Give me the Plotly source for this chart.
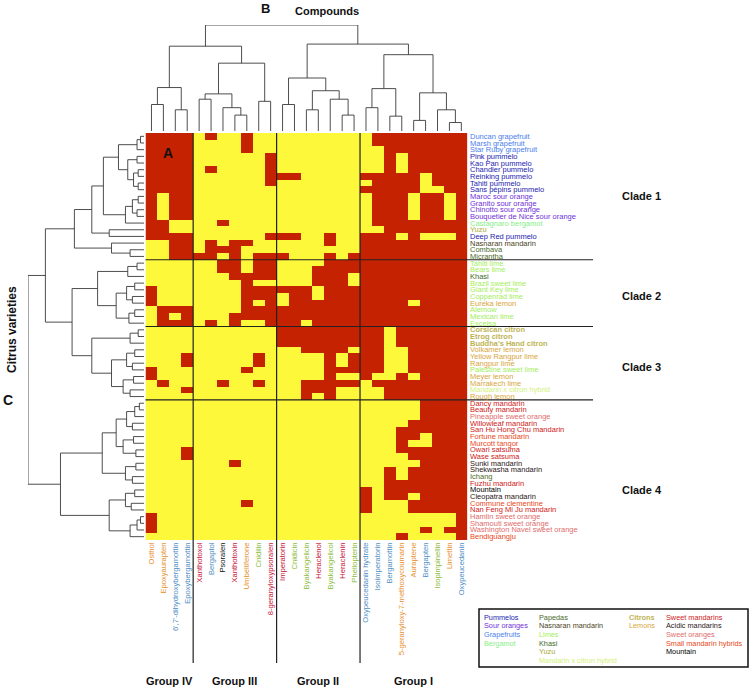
import plotly.graph_objects as go

W, H = 750, 692

# ---------------- data ----------------
compounds = ["Osthol", "Epoxyaurapten", "6',7'-dihydroxybergamottin", "Epoxybergamottin",
             "Xanthotoxol", "Bergaptol", "Psoralen", "Xanthotoxin", "Umbelliferone", "Cnidilin",
             "8-geranyloxypsoralen",
             "Imperatorin", "Cnidicin", "Byakangelicin", "Heraclenol", "Byakangelicol", "Heraclenin",
             "Phellopterin",
             "Oxypeucedanin hydrate", "Isoimperatorin", "Bergamottin", "5-geranyloxy-7-methoxycoumarin",
             "Auraptene", "Bergapten", "Isopimpinellin", "Limettin", "Oxypeucedanin"]
compound_colors = ["#e8902e", "#e8902e", "#4f8fc4", "#4f8fc4",
                   "#c8143a", "#4f8fc4", "#111111", "#c8143a", "#e8902e", "#8cbc3a", "#c8143a",
                   "#c8143a", "#8cbc3a", "#8cbc3a", "#c8143a", "#8cbc3a", "#c8143a", "#8cbc3a",
                   "#4f8fc4", "#4f8fc4", "#4f8fc4", "#e8902e", "#e8902e", "#4f8fc4", "#8cbc3a",
                   "#e8902e", "#4f8fc4"]

varieties = ["Duncan grapefruit", "Marsh grapefruit", "Star Ruby grapefruit", "Pink pummelo",
             "Kao Pan pummelo", "Chandler pummelo", "Reinking pummelo", "Tahiti pummelo",
             "Sans pépins pummelo", "Maroc sour orange", "Granito sour orange", "Chinotto sour orange",
             "Bouquetier de Nice sour orange", "Castagnaro bergamot", "Yuzu", "Deep Red pummelo",
             "Nasnaran mandarin", "Combava", "Micrantha",
             "Tahiti lime", "Bears lime", "Khasi", "Brazil sweet lime", "Giant Key lime",
             "Coppenrad lime", "Eureka lemon", "Alemow", "Mexican lime", "Excelsa",
             "Corsican citron", "Etrog citron", "Buddha's Hand citron", "Volkamer lemon",
             "Yellow Rangpur lime", "Rangpur lime", "Palestine sweet lime", "Meyer lemon",
             "Marrakech lime", "Mandarin x citron hybrid", "Rough lemon",
             "Dancy mandarin", "Beauty mandarin", "Pineapple sweet orange", "Willowleaf mandarin",
             "San Hu Hong Chu mandarin", "Fortune mandarin", "Murcott tangor", "Owari satsuma",
             "Wase satsuma", "Sunki mandarin", "Shekwasha mandarin", "Ichang", "Fuzhu mandarin",
             "Mountain", "Cleopatra mandarin", "Commune clementine", "Nan Feng Mi Ju mandarin",
             "Hamlin sweet orange", "Shamouti sweet orange", "Washington Navel sweet orange",
             "Bendiguangju"]
variety_types = ["gf", "gf", "gf", "pu", "pu", "pu", "pu", "pu", "pu", "so", "so", "so", "so",
                 "be", "yu", "pu", "na", "pa", "pa",
                 "li", "li", "kh", "li", "li", "li", "le", "li", "li", "li",
                 "ci", "ci", "ci", "le", "le", "le", "li", "le", "le", "hy", "le",
                 "sm", "sm", "sw", "sm", "sm", "hb", "hb", "sm", "sm", "ac", "ac", "pa", "sm",
                 "mo", "ac", "hb", "sm", "sw", "sw", "sw", "hb"]
type_colors = {"pu": "#1c1cb0", "so": "#7030d8", "gf": "#4a80ec", "be": "#86ee86",
               "pa": "#4a6a2a", "na": "#4a3f1c", "li": "#a4ee5c", "kh": "#3c6a2a",
               "yu": "#a8a83c", "hy": "#d4f07c", "ci": "#bdb453", "le": "#d8a63c",
               "sm": "#d01a1a", "ac": "#2c1616", "sw": "#e06c6c", "hb": "#e8481c",
               "mo": "#000000"}
legend_columns = [
    [("Pummelos", "pu"), ("Sour oranges", "so"), ("Grapefruits", "gf"), ("Bergamot", "be")],
    [("Papedas", "pa"), ("Nasnaran mandarin", "na"), ("Limes", "li"), ("Khasi", "kh"),
     ("Yuzu", "yu"), ("Mandarin x citron hybrid", "hy")],
    [("Citrons", "ci"), ("Lemons", "le")],
    [("Sweet mandarins", "sm"), ("Acidic mandarins", "ac"), ("Sweet oranges", "sw"),
     ("Small mandarin hybrids", "hb"), ("Mountain", "mo")],
]

# presence (1, red) / absence (0, yellow); columns: Group IV | III | II | I
presence = [
    "1111" "0100100" "0000000" "011111111",
    "1111" "0000100" "0000000" "011111111",
    "1111" "0000100" "0000000" "001111111",
    "1111" "0000001" "0000000" "001011111",
    "1111" "0000001" "0000000" "001011111",
    "1111" "0100001" "0000000" "001011111",
    "1111" "0000001" "1100000" "111110111",
    "1111" "0000001" "0000000" "011110111",
    "1111" "0000000" "0000000" "111110011",
    "1011" "0000000" "0000000" "011101101",
    "1011" "0000000" "0000000" "011101101",
    "1011" "0000000" "0000000" "011101101",
    "1011" "0000000" "0000000" "011101101",
    "1100" "0010000" "0000000" "011111111",
    "1100" "0000000" "0000000" "001111111",
    "1111" "0000001" "1100100" "111010001",
    "0011" "0101100" "0000100" "111111111",
    "0011" "0111000" "0000000" "111111111",
    "0011" "1101011" "1000101" "111111111",
    "0000" "0011011" "0000111" "111111111",
    "0000" "0011011" "0001111" "111111111",
    "0000" "0001111" "0001110" "111111111",
    "0000" "0000100" "0001110" "111111111",
    "1000" "0000111" "1110111" "111111111",
    "1000" "0000111" "0110111" "111111111",
    "1000" "0000101" "0111111" "111101111",
    "0111" "0000111" "1111111" "111111111",
    "0101" "0001111" "1111111" "111111111",
    "0111" "0101001" "1101111" "111111111",
    "0000" "0000000" "1111111" "110111111",
    "0000" "0000000" "1111111" "110111111",
    "0000" "0000000" "1111111" "110111111",
    "0000" "0000000" "0011110" "110011111",
    "0001" "0000010" "0000101" "110011111",
    "0001" "0000010" "0000101" "110011111",
    "1000" "0000100" "0000111" "110011111",
    "1000" "0000000" "0000100" "100101111",
    "0100" "0010010" "0011111" "011111111",
    "0001" "0000000" "0011100" "001111111",
    "0000" "0000000" "0010100" "001111111",
    "0000" "0000000" "0000000" "000001111",
    "0000" "0000000" "0000000" "000001111",
    "0000" "0000000" "0000000" "000001111",
    "0000" "0000000" "0000000" "000011111",
    "0000" "0000000" "0000000" "000111111",
    "0000" "0000000" "0000000" "000110111",
    "0000" "0000000" "0000000" "000100111",
    "0001" "0000000" "0000000" "000111111",
    "0001" "0000000" "0000000" "000011111",
    "0000" "0001000" "0000000" "000001111",
    "0000" "0000000" "0000000" "001011111",
    "0000" "0000000" "0000000" "001011111",
    "0000" "0000000" "0000000" "001111111",
    "0000" "0000000" "0000000" "101111111",
    "0000" "0000000" "0000000" "101101111",
    "0000" "0000100" "0000000" "100011111",
    "0000" "0000000" "0000000" "100011111",
    "1000" "0000000" "0000000" "000000001",
    "1000" "0000000" "0000000" "000000001",
    "1000" "0000000" "0000000" "000001011",
    "0000" "0000000" "0000000" "000100001",
]

# dendrograms: (height, left, right); leaves are indices
col_tree = (100,
            (80, (41, (25, 0, 1), (20, 2, 3)),
                 (64, (35, (30, 4, 5), (22, 6, (15, 7, 8))), (28, 9, 10))),
            (82, (50, (25, 11, 12), (38, (20, 13, 14), (30, 15, (15, 16, 17)))),
                 (72, (40, (22, 18, 19), (14, 20, 21)),
                      (36, (10, 22, 23), (20, 24, (8, 25, 26))))))

clade1 = (60, (45, (35, (22, (6, (3, 0, 1), 2), (14, (6, 3, 4), (9, (5, 5, 6), (5, 7, 8)))),
                        (16, (10, (5, 9, 10), (6, 11, 12)), 13)),
                   (30, 14, 15)),
          (28, 16, (12, 17, 18)))
clade2 = (40, (14, (6, 19, 20), 21),
          (24, (15, (8, 22, 23), (10, 24, 25)), (13, (8, 26, 27), 28)))
clade3 = (45, (12, (5, 29, 30), 31),
          (28, (15, (8, 32, 33), (10, 34, 35)), (18, (9, 36, 37), (12, 38, 39))))
clade4 = (72, (36, (24, (15, (8, (4, 40, 41), 42), (10, 43, 44)), (18, (9, 45, 46), (7, 47, 48))),
               (16, (7, 49, 50), (10, 51, 52))),
          (30, (16, (8, 53, 54), (11, 55, 56)), (12, (6, (3, 57, 58), 59), 60)))
row_tree = (100, (85, clade1, (62, clade2, clade3)), clade4)

clade_names = ["Clade 1", "Clade 2", "Clade 3", "Clade 4"]
clade_bounds = [0, 19, 29, 40, 61]
clade_label_rows = [9, 24, 34.5, 53]
group_names = ["Group IV", "Group III", "Group II", "Group I"]
group_bounds = [0, 4, 11, 18, 27]

YELLOW = "#fdf83a"
RED = "#c42200"
FONT = "Liberation Sans, Arial, sans-serif"

# ---------------- helpers ----------------
def px(x):
    return x / W


def py(y):
    return 1 - y / H


def dendro(tree):
    xs, ys = [], []

    def rec(node):
        if isinstance(node, int):
            return node, 0.0
        h, a, b = node
        pa, ha = rec(a)
        pb, hb = rec(b)
        xs.extend([pa, pa, pb, pb, None])
        ys.extend([ha, h, h, hb, None])
        return (pa + pb) / 2, h

    rec(tree)
    return xs, ys


nrow, ncol = len(varieties), len(compounds)
z = [[int(ch) for ch in row] for row in presence]

fig = go.Figure()
fig.add_trace(go.Heatmap(
    z=z, x=list(range(ncol)), y=list(range(nrow)),
    colorscale=[[0, YELLOW], [0.5, YELLOW], [0.5, RED], [1, RED]],
    zmin=0, zmax=1, showscale=False, xgap=0, ygap=0, hoverinfo="skip",
    xaxis="x", yaxis="y"))

cx, cy = dendro(col_tree)
fig.add_trace(go.Scatter(x=cx, y=cy, mode="lines", line=dict(color="#3a3a3a", width=0.9),
                         xaxis="x2", yaxis="y2", hoverinfo="skip", showlegend=False))
rx, ry = dendro(row_tree)
fig.add_trace(go.Scatter(x=ry, y=rx, mode="lines", line=dict(color="#3a3a3a", width=0.9),
                         xaxis="x3", yaxis="y3", hoverinfo="skip", showlegend=False))

HM_L, HM_R, HM_T, HM_B = 145.5, 467.3, 133, 540
hm_x = [px(HM_L), px(HM_R)]
hm_y = [py(HM_B), py(HM_T)]

col_ticktext = ['<span style="color:%s">%s</span>' % (c, t) for t, c in zip(compounds, compound_colors)]

fig.update_layout(
    width=W, height=H, margin=dict(l=0, r=0, t=0, b=0),
    paper_bgcolor="white", plot_bgcolor="white", showlegend=False,
    font=dict(family=FONT, color="#111"),
    xaxis=dict(domain=hm_x, range=[-0.5, ncol - 0.5], tickmode="array",
               tickvals=list(range(ncol)), ticktext=col_ticktext, tickangle=-90,
               tickfont=dict(size=7.6), showgrid=False, zeroline=False, ticks="",
               showline=False, anchor="y", fixedrange=True),
    yaxis=dict(domain=hm_y, range=[nrow - 0.5, -0.5], showticklabels=False,
               showgrid=False, zeroline=False, ticks="",
               showline=False, anchor="x", fixedrange=True),
    xaxis2=dict(domain=hm_x, range=[-0.5, ncol - 0.5], visible=False, anchor="y2"),
    yaxis2=dict(domain=[py(131), py(25)], range=[0, 100], visible=False, anchor="x2"),
    xaxis3=dict(domain=[px(28), px(144)], range=[100, 0], visible=False, anchor="y3"),
    yaxis3=dict(domain=hm_y, range=[nrow - 0.5, -0.5], visible=False, anchor="x3"),
)

shapes = []
for b in group_bounds[1:-1]:
    shapes.append(dict(type="line", xref="x", yref="paper", x0=b - 0.5, x1=b - 0.5,
                       y0=py(663), y1=py(HM_T), line=dict(color="#222", width=1.2)))
for b in clade_bounds[1:-1]:
    shapes.append(dict(type="line", xref="paper", yref="y", x0=px(HM_L), x1=px(593),
                       y0=b - 0.5, y1=b - 0.5, line=dict(color="#222", width=1.2)))
shapes.append(dict(type="rect", xref="paper", yref="paper", x0=px(479), x1=px(748),
                   y0=py(667), y1=py(609), line=dict(color="#111", width=1.5)))
fig.update_layout(shapes=shapes)

ann = []


def text(t, x, y, size=11, bold=True, color="#111", xanchor="center", angle=0):
    ann.append(dict(text="<b>%s</b>" % t if bold else t, x=px(x), y=py(y), xref="paper",
                    yref="paper", showarrow=False, xanchor=xanchor, yanchor="middle",
                    textangle=angle, font=dict(size=size, color=color, family=FONT)))


text("B", 265, 9, size=13)
text("Compounds", 327, 11, size=11)
text("Citrus varieties", 12, 330, size=12, angle=-90)
text("C", 8, 400, size=14)
text("A", 168, 153, size=14)

# row labels
for i, (name, key) in enumerate(zip(varieties, variety_types)):
    lab = "<b>%s</b>" % name if key == "ci" else name
    ann.append(dict(text=lab, x=px(469), y=i, xref="paper", yref="y", showarrow=False,
                    xanchor="left", yanchor="middle", borderpad=0,
                    font=dict(size=7.5, color=type_colors[key], family=FONT)))

for name, r in zip(clade_names, clade_label_rows):
    ann.append(dict(text="<b>%s</b>" % name, x=px(620), y=r, xref="paper", yref="y",
                    showarrow=False, xanchor="left", yanchor="middle",
                    font=dict(size=11, color="#111", family=FONT)))

for i, name in enumerate(group_names):
    xc = (group_bounds[i] + group_bounds[i + 1]) / 2 - 0.5
    ann.append(dict(text="<b>%s</b>" % name, x=xc, y=py(681), xref="x", yref="paper",
                    showarrow=False, xanchor="center", yanchor="middle",
                    font=dict(size=11, color="#111", family=FONT)))

leg_x = [483, 538, 628, 665]
for cx_, col in zip(leg_x, legend_columns):
    for j, (lab, key) in enumerate(col):
        t = "<b>%s</b>" % lab if key == "ci" else lab
        ann.append(dict(text=t, x=px(cx_), y=py(617 + 8.7 * j), xref="paper", yref="paper",
                        showarrow=False, xanchor="left", yanchor="middle", borderpad=0,
                        font=dict(size=7.3, color=type_colors[key], family=FONT)))

fig.update_layout(annotations=ann)
fig.write_html("out.html", config={"displayModeBar": False},
               post_script="document.body.style.margin='0';document.body.style.overflow='hidden';")
